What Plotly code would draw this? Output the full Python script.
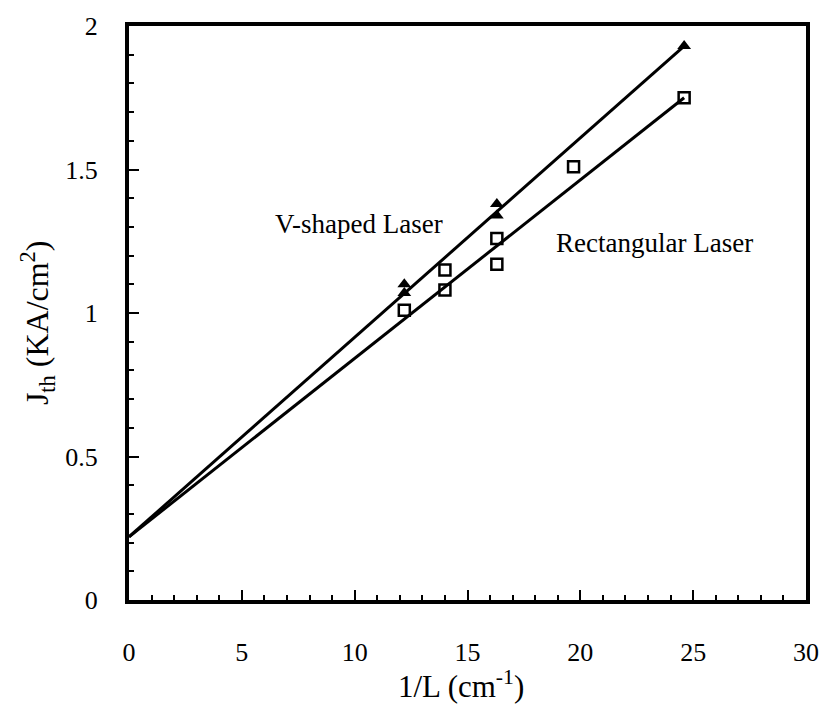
import plotly.graph_objects as go

# Measured threshold current density vs inverse cavity length
v_x = [12.2, 12.2, 16.3, 16.3, 24.6]
v_y = [1.07, 1.10, 1.34, 1.38, 1.93]

rect_x = [12.2, 14.0, 14.0, 16.3, 16.3, 19.7, 24.6]
rect_y = [1.01, 1.08, 1.15, 1.17, 1.26, 1.51, 1.75]

# Linear fits extrapolated to 1/L = 0
v_fit_x = [0, 24.6]
v_fit_y = [0.22, 1.93]
rect_fit_x = [0, 24.6]
rect_fit_y = [0.22, 1.75]

x_ticks = [0, 5, 10, 15, 20, 25, 30]
y_ticks = [0, 0.5, 1, 1.5, 2]
y_tick_text = ["0", "0.5", "1", "1.5", "2"]

FONT = "Liberation Serif"

fig = go.Figure()
fig.add_trace(go.Scatter(x=v_fit_x, y=v_fit_y, mode="lines",
                         line=dict(color="black", width=3), showlegend=False))
fig.add_trace(go.Scatter(x=rect_fit_x, y=rect_fit_y, mode="lines",
                         line=dict(color="black", width=3), showlegend=False))
fig.add_trace(go.Scatter(x=v_x, y=v_y, mode="markers",
                         marker=dict(symbol="triangle-up", size=12, color="black"),
                         showlegend=False))
fig.add_trace(go.Scatter(x=rect_x, y=rect_y, mode="markers",
                         marker=dict(symbol="square-open", size=11, color="black",
                                     line=dict(width=2.5, color="black")),
                         showlegend=False))

fig.add_annotation(x=10.2, y=1.31, text="V-shaped Laser", showarrow=False,
                   font=dict(family=FONT, size=27, color="black"))
fig.add_annotation(x=23.3, y=1.245, text="Rectangular Laser", showarrow=False,
                   font=dict(family=FONT, size=27, color="black"))

# Axis titles
fig.add_annotation(xref="paper", yref="paper", x=0.49, y=-0.148,
                   text="1/L (cm<sup>-1</sup>)", showarrow=False,
                   yanchor="middle",
                   font=dict(family=FONT, size=31, color="black"))
fig.add_annotation(xref="paper", yref="paper", x=-0.136, y=0.484,
                   text="J<sub>th</sub> (KA/cm<sup>2</sup>)", showarrow=False,
                   textangle=-90, xanchor="center", yanchor="middle",
                   font=dict(family=FONT, size=32, color="black"))

axis_common = dict(
    showgrid=False, zeroline=False,
    showline=True, linecolor="black", linewidth=4, mirror=True,
    ticks="inside", tickcolor="black", tickwidth=2, ticklen=10,
    tickfont=dict(family=FONT, size=26, color="black"),
)

fig.update_xaxes(range=[0, 30], tickvals=x_ticks,
                 ticktext=[str(v) for v in x_ticks],
                 ticklabelstandoff=26,
                 minor=dict(dtick=1, ticks="inside", ticklen=5,
                            tickwidth=2, tickcolor="black"),
                 **axis_common)
fig.update_yaxes(range=[0, 2], tickvals=y_ticks,
                 ticktext=y_tick_text,
                 ticklabelstandoff=22,
                 minor=dict(dtick=0.1, ticks="inside", ticklen=5,
                            tickwidth=2, tickcolor="black"),
                 **axis_common)

fig.update_layout(
    width=836, height=712,
    margin=dict(l=129, r=30, t=21, b=112),
    plot_bgcolor="white", paper_bgcolor="white",
)

fig.write_html("out.html")
